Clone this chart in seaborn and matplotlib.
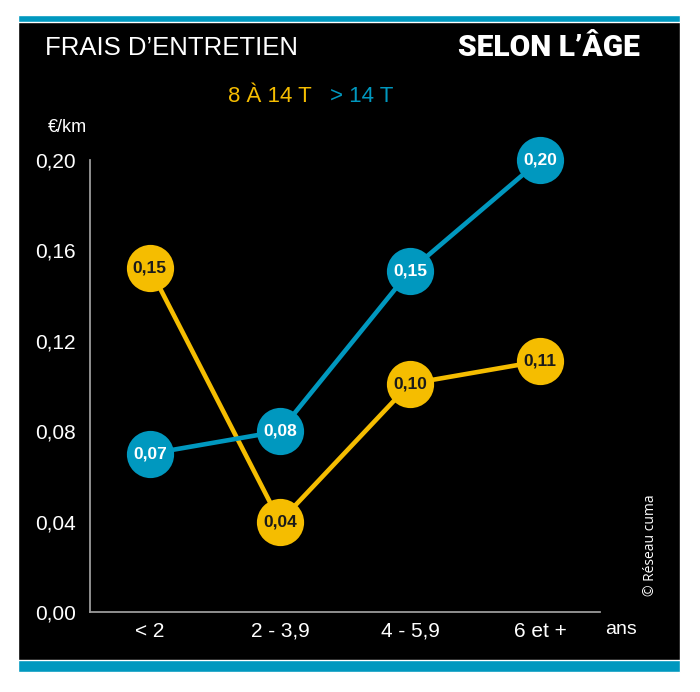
# Frais d'entretien selon l'âge
import pandas as pd
import matplotlib.pyplot as plt
import seaborn as sns
from matplotlib.patches import Rectangle

# Data
age_classes = ['< 2', '2 - 3,9', '4 - 5,9', '6 et +']
series_names = ['8 À 14 T', '> 14 T']
cost_8_14 = [0.152, 0.040, 0.101, 0.111]
cost_14_plus = [0.070, 0.080, 0.151, 0.200]
labels_8_14 = ['0,15', '0,04', '0,10', '0,11']
labels_14_plus = ['0,07', '0,08', '0,15', '0,20']
y_ticks = [0.00, 0.04, 0.08, 0.12, 0.16, 0.20]
y_tick_labels = ['0,00', '0,04', '0,08', '0,12', '0,16', '0,20']

YELLOW = '#F5BD00'
BLUE = '#0098BF'

df = pd.DataFrame({
    'age': age_classes * 2,
    'cost': cost_8_14 + cost_14_plus,
    'group': [series_names[0]] * 4 + [series_names[1]] * 4,
})

sns.set_style('white')
plt.rcParams['font.family'] = ['Liberation Sans Narrow', 'Liberation Sans', 'DejaVu Sans']

fig = plt.figure(figsize=(7, 6.92), dpi=100)
fig.patch.set_facecolor('white')

# black panel with teal bars
fig.patches.append(Rectangle((18 / 700, 1 - 672 / 692), 662 / 700, 657 / 692,
                             transform=fig.transFigure, facecolor='black', zorder=0))
fig.patches.append(Rectangle((18 / 700, 1 - 22 / 692), 662 / 700, 7 / 692,
                             transform=fig.transFigure, facecolor=BLUE, zorder=1))
fig.patches.append(Rectangle((18 / 700, 1 - 672 / 692), 662 / 700, 12 / 692,
                             transform=fig.transFigure, facecolor=BLUE, zorder=1))

ax = fig.add_axes([90 / 700, 1 - 612 / 692, 510 / 700, 452 / 692])
ax.set_zorder(5)
ax.set_facecolor('none')

sns.lineplot(data=df, x='age', y='cost', hue='group', palette=[YELLOW, BLUE],
             marker='o', markersize=34, markeredgewidth=0, linewidth=3.3,
             sort=False, legend=False, ax=ax, clip_on=False)

for i in range(len(age_classes)):
    ax.text(i, cost_8_14[i], labels_8_14[i], ha='center', va='center',
            fontsize=12.5, fontweight='bold', color='#1a1a1a', zorder=10)
    ax.text(i, cost_14_plus[i], labels_14_plus[i], ha='center', va='center',
            fontsize=12.5, fontweight='bold', color='white', zorder=10)

ax.set_xlim(-0.46, 3.46)
ax.set_ylim(0, 0.20)
ax.set_yticks(y_ticks)
ax.set_yticklabels(y_tick_labels)
ax.set_xlabel('')
ax.set_ylabel('')
ax.tick_params(axis='both', colors='white', labelsize=15, length=0)
ax.tick_params(axis='y', pad=10)
ax.tick_params(axis='x', pad=7)
for s in ['top', 'right']:
    ax.spines[s].set_visible(False)
for s in ['left', 'bottom']:
    ax.spines[s].set_color('#9a9a9a')
    ax.spines[s].set_linewidth(1.3)

# titles and legend text
fig.text(45 / 700, 1 - 48 / 692, 'FRAIS D\u2019ENTRETIEN', color='white', fontsize=18.5,
         ha='left', va='center')
fig.text(640 / 700, 1 - 48 / 692, 'SELON L\u2019ÂGE', color='white', fontsize=21.5,
         fontweight='black', ha='right', va='center', family=['Roboto', 'DejaVu Sans'])
fig.text(312 / 700, 1 - 96 / 692, series_names[0], color=YELLOW, fontsize=16,
         ha='right', va='center')
fig.text(330 / 700, 1 - 96 / 692, series_names[1], color=BLUE, fontsize=16,
         ha='left', va='center')
fig.text(48 / 700, 1 - 128 / 692, '€/km', color='white', fontsize=13,
         ha='left', va='center')
fig.text(605 / 700, 1 - 630 / 692, 'ans', color='white', fontsize=14,
         ha='left', va='center')
fig.text(650 / 700, 1 - 545 / 692, '© Réseau cuma', color='white', fontsize=10,
         rotation=90, ha='center', va='center', family=['Open Sans', 'DejaVu Sans'])

fig.savefig('out.png', dpi=100, facecolor='white')
